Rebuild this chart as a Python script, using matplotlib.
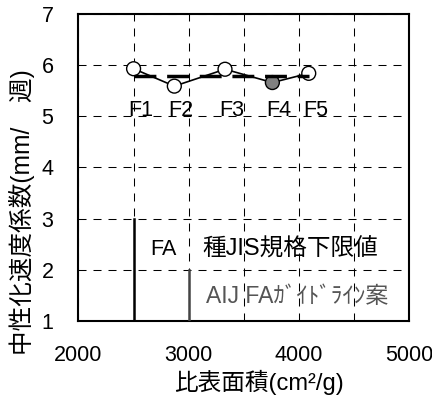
import matplotlib
matplotlib.use("Agg")
import matplotlib.pyplot as plt
import numpy as np

plt.rcParams['font.family'] = ['Liberation Sans', 'Noto Sans CJK JP', 'DejaVu Sans']

# fly ash samples: specific surface vs carbonation rate
names = ['F1', 'F2', 'F3', 'F4', 'F5']
blaine = [2500, 2870, 3330, 3760, 4090]
rate = [5.93, 5.59, 5.92, 5.66, 5.84]
fills = ['white', 'white', 'white', 'gray', 'white']

# lower limits of specific surface
jis_limit = 2500
aij_limit = 3000

fig = plt.figure(figsize=(4.32, 3.96), dpi=100)
ax = fig.add_axes([0.1817, 0.1894, 0.765, 0.7753])

ax.set_xlim(2000, 5000)
ax.set_ylim(1, 7)
ax.set_xticks([2000, 3000, 4000, 5000])
ax.set_xticks(np.arange(2000, 5001, 500), minor=True)
ax.set_yticks(range(1, 8))
ax.tick_params(axis='both', which='both', length=0, labelsize=15.5)
ax.tick_params(axis='x', pad=17)
ax.tick_params(axis='y', pad=18)
ax.grid(True, which='both', color='black', lw=0.75, linestyle=(0, (7.7, 6.7)))
for s in ax.spines.values():
    s.set_linewidth(1.5)

# connecting line and markers
ax.plot(blaine, rate, '-', color='black', lw=1.2, zorder=3)
ax.scatter(blaine, rate, s=100, c=fills, edgecolors='black', linewidths=1.0, zorder=4)

# mean of the five samples
mean_rate = np.mean(rate)
ax.plot([blaine[0], blaine[-1]], [mean_rate, mean_rate], color='black', lw=2.5,
        dashes=(6.3, 3.1), solid_capstyle='butt', dash_capstyle='butt', zorder=5)

for n, x in zip(names, blaine):
    ax.text(x + 62, 5.12, n, ha='center', va='center', fontsize=15.5, zorder=6)

# standard lower limits
ax.plot([jis_limit, jis_limit], [1, 3], color='black', lw=1.8, zorder=3)
ax.plot([aij_limit, aij_limit], [1, 2], color='#444444', lw=1.8, zorder=3)
ax.text(2767, 2.39, 'FA', ha='center', va='center', fontsize=15.5)
ax.text(3121, 2.39, '種JIS規格下限値', ha='left', va='center', fontsize=17)
ax.text(3157, 1.47, 'AIJ FAｶﾞｲﾄﾞﾗｲﾝ案', ha='left', va='center', fontsize=16.5,
        color='#555555')

ax.set_xlabel('比表面積(cm²/g)', fontsize=17, va='center')
ax.xaxis.set_label_coords(0.545, -0.199)
ax.set_ylabel('中性化速度係数(mm/\u3000週)', fontsize=17.7, va='center')
ax.yaxis.set_label_coords(-0.172, 0.355)

fig.savefig('out.png', dpi=100)
